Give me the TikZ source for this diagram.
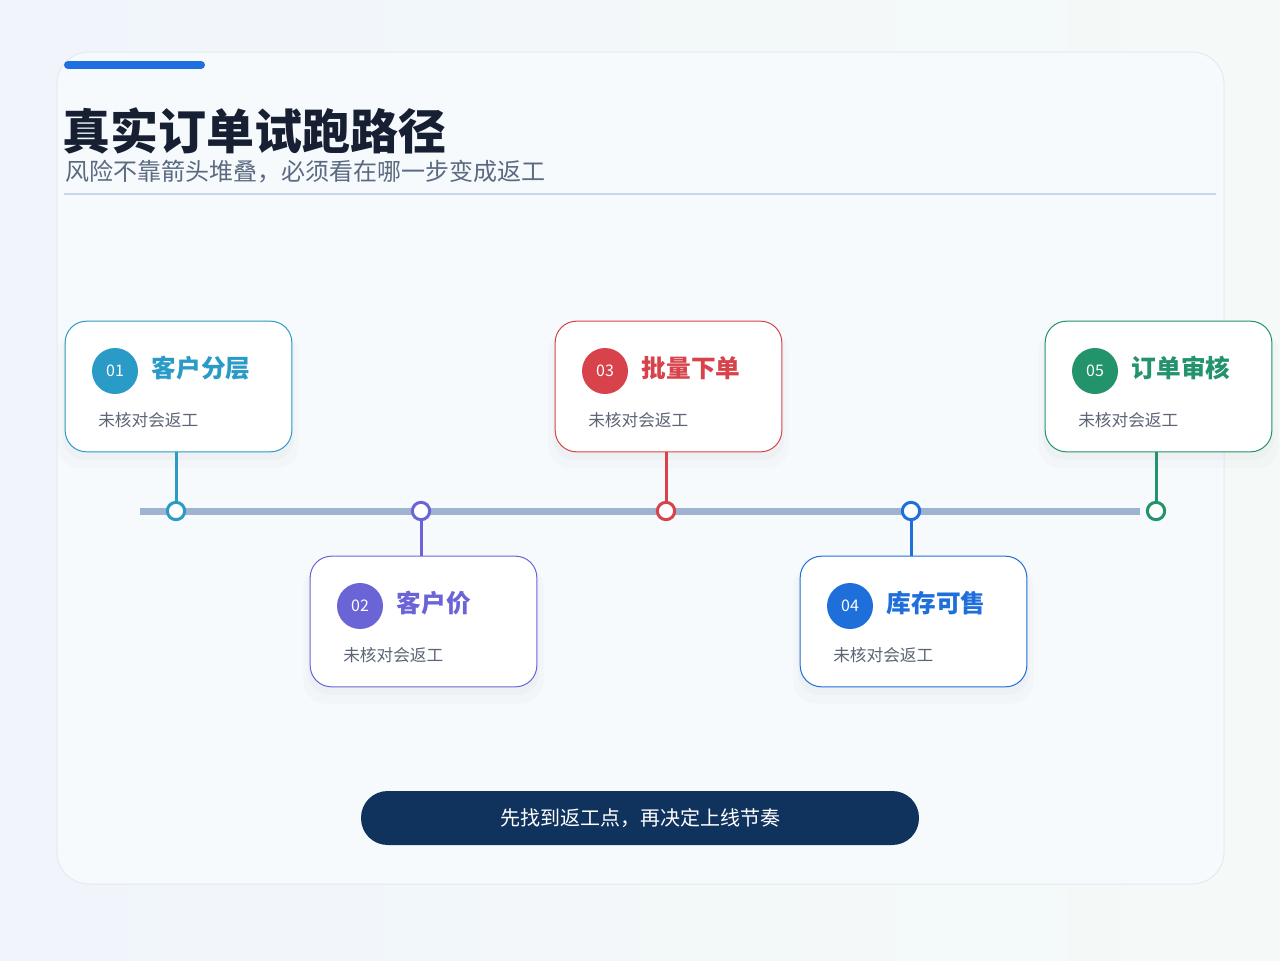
\documentclass[tikz,border=0pt]{standalone}
\usepackage{fontspec}
\setmainfont{Noto Sans CJK SC}
\usetikzlibrary{positioning, shadows}

\definecolor{pagebg}{HTML}{F1F5FB}
\definecolor{pagebgr}{HTML}{F5FAF8}
\definecolor{panelbg}{HTML}{F7FAFD}
\definecolor{panelrule}{HTML}{E3EAF2}
\definecolor{accent}{HTML}{1F6FE0}
\definecolor{inkdark}{HTML}{172033}
\definecolor{inksub}{HTML}{5A6A80}
\definecolor{hrule}{HTML}{C8D8EC}
\definecolor{track}{HTML}{9DB3CF}
\definecolor{inkgray}{HTML}{5C6475}
\definecolor{pill}{HTML}{10335E}
\definecolor{stepA}{HTML}{2A9BC7}
\definecolor{stepB}{HTML}{6A64D6}
\definecolor{stepC}{HTML}{D8434B}
\definecolor{stepD}{HTML}{1F6FDB}
\definecolor{stepE}{HTML}{22936A}

\begin{document}
\begin{tikzpicture}[x=0.75pt, y=-0.75pt,
  panel/.style  = {draw=panelrule, fill=panelbg, rounded corners=24pt, line width=0.75pt},
  card/.style   = {draw=#1, fill=white, rounded corners=16pt, line width=0.75pt,
                   minimum width=170pt, minimum height=98pt, inner sep=0pt,
                   drop shadow={opacity=0.03, shadow xshift=0pt, shadow yshift=-9pt,
                                shadow scale=1.06},
                   drop shadow={opacity=0.035, shadow xshift=0pt, shadow yshift=-5pt,
                                shadow scale=1.02}},
  badge/.style  = {circle, fill=#1, text=white, minimum size=34.5pt, inner sep=0pt,
                   font=\fontsize{12}{12}\selectfont},
  steptitle/.style = {text=#1, inner sep=0pt, font=\bfseries\fontsize{18.5}{20}\selectfont},
  stepnote/.style  = {text=inkgray, inner sep=0pt, anchor=west,
                   font=\fontsize{12.5}{14}\selectfont},
  dotnode/.style = {circle, draw=#1, fill=white, line width=2.25pt,
                   minimum size=13pt, inner sep=0pt},
  conn/.style   = {draw=#1, line width=2.25pt},
]
\useasboundingbox (0,0) rectangle (1280,960);
\shade[left color=pagebg, right color=pagebgr] (0,0) rectangle (1280,960);
\draw[panel] (57,52) rectangle (1224,884);

% header
\draw[accent, line width=6pt, line cap=round] (68,65) -- (201,65);
\node[anchor=west, inner sep=0pt, text=inkdark, font=\bfseries\fontsize{36}{40}\selectfont]
  (title) at (62,131) {真实订单试跑路径};
\node[anchor=west, inner sep=0pt, text=inksub, font=\fontsize{18}{20}\selectfont]
  (subtitle) at (65,172) {风险不靠箭头堆叠，必须看在哪一步变成返工};
\draw[hrule, line width=1.5pt] (64,194) -- (1216,194);

% timeline
\coordinate (trackL) at (140,511);
\coordinate (trackR) at (1140,511);
\draw[track, line width=5.25pt] (trackL) -- (trackR);

\foreach \i/\cx/\cy/\side/\col/\ttl in {
    01/178.5/386.5/south/stepA/客户分层,
    02/423.5/621.5/north/stepB/客户价,
    03/668.5/386.5/south/stepC/批量下单,
    04/913.5/621.5/north/stepD/库存可售,
    05/1158.5/386.5/south/stepE/订单审核}{
  \node[card=\col] (card\i) at (\cx,\cy) {};
  \node[badge=\col] (badge\i) at (\cx-63.5,\cy-15.5) {\i};
  \node[steptitle=\col, right=10pt of badge\i, yshift=2.5pt] (name\i) {\ttl};
  \node[stepnote] (note\i) at (\cx-80.5,\cy+33.5) {未核对会返工};
  \node[dotnode=\col] (dot\i) at (\cx-2.5,511) {};
  \draw[conn=\col] (dot\i |- card\i.\side) -- (dot\i);
}

% footer
\node[fill=pill, text=white, rounded corners=20pt, minimum width=418.5pt,
      minimum height=40.5pt, font=\fontsize{15}{16}\selectfont]
  (takeaway) at (640,818) {先找到返工点，再决定上线节奏};

\end{tikzpicture}
\end{document}
